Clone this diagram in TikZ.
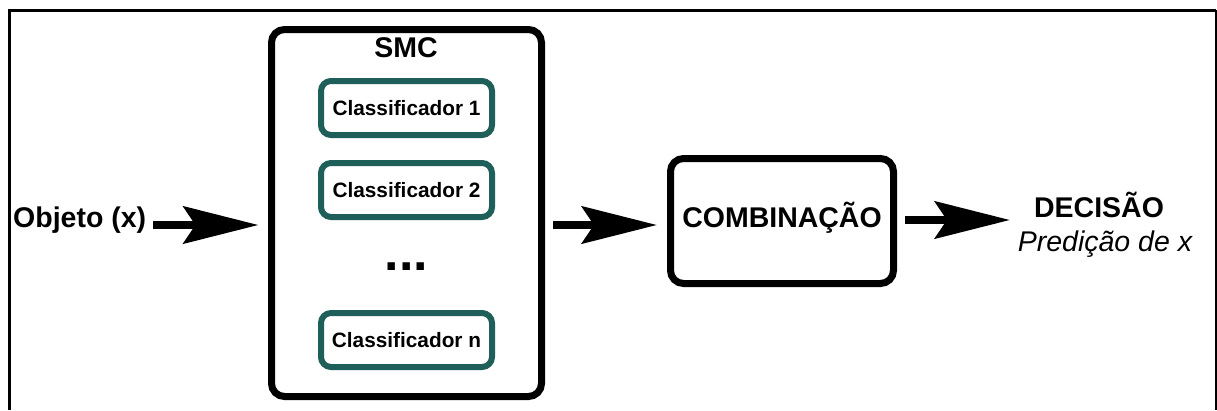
\documentclass[tikz,border=0pt]{standalone}
\usepackage{fontspec}
\setmainfont{Liberation Sans}
\usetikzlibrary{arrows.meta}
\definecolor{clfteal}{HTML}{1F5F59}
\begin{document}
\begin{tikzpicture}[x=1pt,y=-1pt,
  bigtext/.style={font=\fontsize{28.5}{30}\selectfont\bfseries, inner sep=0pt},
  clftext/.style={font=\fontsize{20.8}{22}\selectfont\bfseries},
  clfbox/.style={draw=clfteal, line width=6pt, rounded corners=10pt, minimum width=171pt, minimum height=54pt, inner sep=0pt, clftext},
  mainbox/.style={draw=black, line width=7pt, rounded corners=13pt, inner sep=0pt},
  bigarrow/.style={line width=8.5pt, -{Stealth[length=75pt,width=37pt,inset=12pt]}},
  framethick/.style={draw=black, line width=3pt},
  framethin/.style={draw=black, line width=2pt}
]
\useasboundingbox (0,0) rectangle (1217,410);
% frame
\draw[framethick] (9.7,410) -- (9.7,10.3) -- (1216,10.3);
\draw[framethin] (1216,10.3) -- (1216,410);

% SMC box
\node[mainbox, minimum width=270pt, minimum height=367pt] (smc) at (406.5,213) {};
\node[bigtext, anchor=base] (smct) at (406,57) {SMC};
\node[clfbox] (c1) at (406.5,108) {Classificador 1};
\node[clfbox] (c2) at (406.5,190) {Classificador 2};
\node[font=\fontsize{52}{52}\selectfont\bfseries, inner sep=0pt, anchor=base] (dots) at (406.5,270) {...};
\node[clfbox] (cn) at (406.5,340) {Classificador n};

% combination
\node[mainbox, minimum width=223pt, minimum height=125pt] (comb) at (782,221) {};
\node[bigtext, anchor=base] (combt) at (782,227) {COMBINAÇÃO};

% texts
\node[bigtext, anchor=base west] (obj) at (13,227) {Objeto (x)};
\node[bigtext, anchor=base] (dec) at (1099,217) {DECISÃO};
\node[font=\fontsize{28.5}{30}\selectfont\itshape, inner sep=0pt, anchor=base] (pred) at (1105,251.5) {Predição de x};

% arrows
\coordinate (a1s) at (153,225);
\coordinate (a3e) at (1010,220);
\draw[bigarrow, shorten >=9.5pt] (a1s) -- (smc.west |- a1s);
\draw[bigarrow, shorten <=8pt, shorten >=10pt] (smc.east |- a1s) -- (comb.west |- a1s);
\draw[bigarrow, shorten <=8pt] (comb.east |- a3e) -- (a3e);
\end{tikzpicture}
\end{document}
